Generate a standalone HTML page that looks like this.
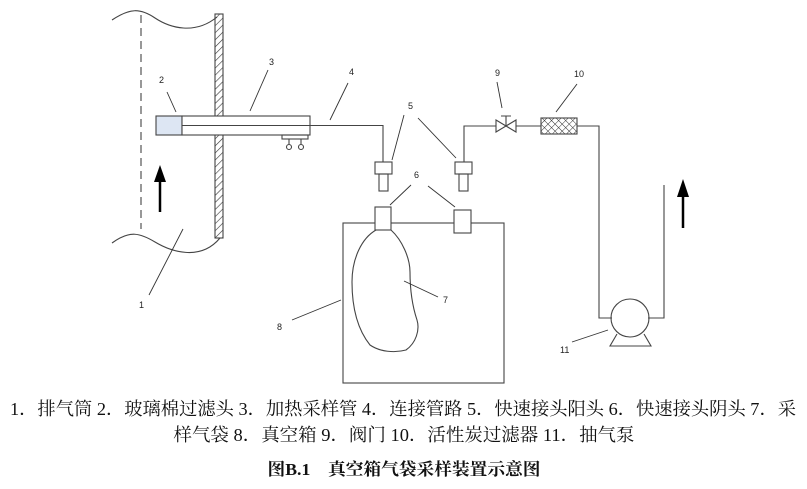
<!DOCTYPE html>
<html><head><meta charset="utf-8"><style>
body{margin:0;background:#fff;width:807px;height:489px;overflow:hidden}
svg{position:absolute;left:0;top:0}
.t{font-family:"Liberation Serif","Noto Serif CJK SC",serif;font-size:18px;fill:#111}
.n{font-family:"Liberation Sans",sans-serif;font-size:9px;fill:#222}
</style></head><body>
<svg width="807" height="489" viewBox="0 0 807 489">
<defs>
<pattern id="h" width="5" height="5" patternUnits="userSpaceOnUse" patternTransform="rotate(45)"><line x1="0" y1="0" x2="0" y2="5" stroke="#333" stroke-width="1.2"/></pattern>
<pattern id="x" width="5" height="5" patternUnits="userSpaceOnUse" patternTransform="rotate(45)"><path d="M0 0V5M0 0H5" stroke="#333" stroke-width="1"/></pattern>
</defs>
<g fill="none" stroke="#444" stroke-width="1.1">
<path d="M112 20 C130 8,140 8,155 18 S195 35,217 17"/>
<path d="M112 243 C130 230,140 233,155 242 S200 262,220 238"/>
<line x1="141" y1="15" x2="141" y2="229" stroke-dasharray="8,5"/>
<rect x="215" y="14" width="8" height="224" fill="url(#h)"/>
<rect x="156" y="116" width="26" height="19" fill="#dde6f3"/>
<rect x="182" y="116" width="128" height="19" fill="#fff"/>
<path d="M182 125.5H383V162"/>
<rect x="282" y="135" width="26" height="4"/>
<path d="M289 139v5M301 139v5"/>
<circle cx="289" cy="147" r="2.5"/><circle cx="301" cy="147" r="2.5"/>
<rect x="375" y="162" width="17" height="12"/><rect x="379" y="174" width="9" height="17"/>
<rect x="455" y="162" width="17" height="12"/><rect x="459" y="174" width="9" height="17"/>
<path d="M464 162V126H496M516 126H541M577 126H599V318H612M648 318H664V185"/>
<path d="M496 120L516 132V120L496 132Z"/>
<path d="M506 126V116M501 116H511"/>
<rect x="541" y="118" width="36" height="16" fill="url(#x)"/>
<circle cx="630" cy="318" r="19"/>
<path d="M617 334L610 346H651L644 334"/>
<rect x="343" y="223" width="161" height="160"/>
<rect x="375" y="207" width="16" height="23" fill="#fff"/>
<rect x="454" y="210" width="17" height="23" fill="#fff"/>
<path d="M376 230C362 238,352 258,352 282C352 310,358 330,370 345C380 352,395 353,406 350C416 343,420 330,417 320C412 305,410 290,410 272C410 258,402 240,391 230Z"/>
<g stroke="#333" stroke-width="0.9">
<line x1="167" y1="92" x2="176" y2="112"/>
<line x1="268" y1="70" x2="250" y2="111"/>
<line x1="348" y1="83" x2="330" y2="120"/>
<line x1="404" y1="115" x2="392" y2="160"/>
<line x1="418" y1="118" x2="456" y2="158"/>
<line x1="411" y1="185" x2="390" y2="205"/>
<line x1="428" y1="186" x2="455" y2="207"/>
<line x1="404" y1="281" x2="438" y2="297"/>
<line x1="292" y1="320" x2="341" y2="300"/>
<line x1="497" y1="82" x2="502" y2="108"/>
<line x1="577" y1="84" x2="556" y2="112"/>
<line x1="572" y1="342" x2="608" y2="330"/>
<line x1="183" y1="229" x2="149" y2="295"/>
</g>
</g>
<path d="M160 212V180" stroke="#000" stroke-width="2.5"/>
<path d="M154 182L160 165L166 182Z" fill="#000"/>
<path d="M683 228V195" stroke="#000" stroke-width="2.5"/>
<path d="M677 197L683 179L689 197Z" fill="#000"/>
<g class="n">
<text x="159" y="83">2</text><text x="269" y="65">3</text><text x="349" y="75">4</text>
<text x="408" y="109">5</text><text x="414" y="178">6</text><text x="443" y="303">7</text>
<text x="277" y="330">8</text><text x="495" y="76">9</text><text x="574" y="77">10</text>
<text x="560" y="353">11</text><text x="139" y="308">1</text>
</g>
<text class="t" x="10" y="415" textLength="786" lengthAdjust="spacingAndGlyphs">1．排气筒 2．玻璃棉过滤头 3．加热采样管 4．连接管路 5．快速接头阳头 6．快速接头阴头 7．采</text>
<text class="t" x="404" y="441" text-anchor="middle" textLength="461" lengthAdjust="spacingAndGlyphs">样气袋 8．真空箱 9．阀门 10．活性炭过滤器 11．抽气泵</text>
<text class="t" x="404" y="475" text-anchor="middle" font-weight="bold" style="font-size:17px" textLength="273" lengthAdjust="spacingAndGlyphs">图B.1　真空箱气袋采样装置示意图</text>
</svg>
</body></html>
